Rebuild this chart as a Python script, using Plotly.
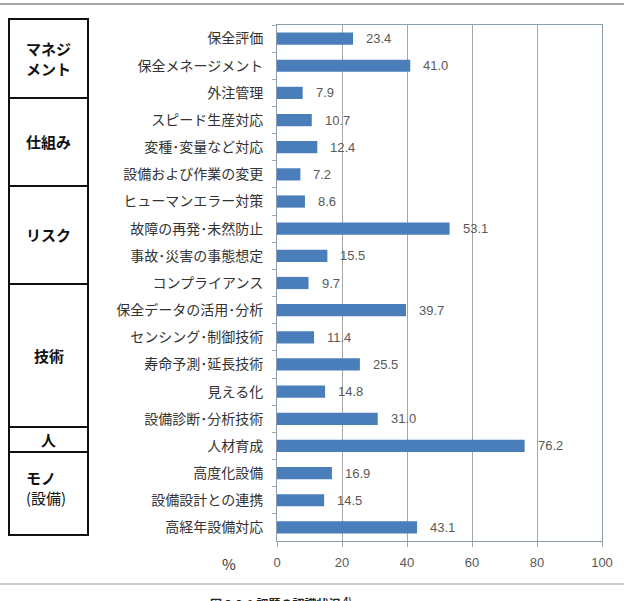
import plotly.graph_objects as go

categories = [
    "保全評価", "保全メネージメント", "外注管理", "スピード生産対応", "変種･変量など対応",
    "設備および作業の変更", "ヒューマンエラー対策", "故障の再発･未然防止", "事故･災害の事態想定",
    "コンプライアンス", "保全データの活用･分析", "センシング･制御技術", "寿命予測･延長技術",
    "見える化", "設備診断･分析技術", "人材育成", "高度化設備", "設備設計との連携", "高経年設備対応",
]
values = [23.4, 41.0, 7.9, 10.7, 12.4, 7.2, 8.6, 53.1, 15.5, 9.7, 39.7, 11.4, 25.5, 14.8, 31.0, 76.2, 16.9, 14.5, 43.1]
x_ticks = [0, 20, 40, 60, 80, 100]

groups = ["マネジ<br>メント", "仕組み", "リスク", "技術", "人", "<b>モノ</b><br><span style='font-weight:normal'>(設備)</span>"]

W, H = 624, 601
L, R, T, B = 277, 602, 25, 541

fig = go.Figure()
fig.add_trace(go.Bar(
    y=categories, x=values, orientation="h",
    marker=dict(color="#4a7ebb", line=dict(width=0)),
    width=0.45, hoverinfo="skip",
))

for c, v in zip(categories, values):
    fig.add_annotation(x=v, y=c, xref="x", yref="y", text=f"{v:.1f}", showarrow=False,
                       xanchor="left", yanchor="middle", xshift=11,
                       font=dict(family="Liberation Sans, Arial", size=13, color="#595959"))

def px_x(p):
    return (p - L) / (R - L)

def px_y(p):
    return (B - p) / (B - T)

row_edges = [19, 98, 186, 284, 427, 452, 535]
tx0, tx1 = 9, 88
fig.add_shape(type="rect", xref="paper", yref="paper",
              x0=px_x(tx0), x1=px_x(tx1), y0=px_y(row_edges[-1]), y1=px_y(row_edges[0]),
              line=dict(color="#111111", width=2), fillcolor="rgba(0,0,0,0)")
for e in row_edges[1:-1]:
    fig.add_shape(type="line", xref="paper", yref="paper",
                  x0=px_x(tx0), x1=px_x(tx1), y0=px_y(e), y1=px_y(e),
                  line=dict(color="#111111", width=2))
for i, g in enumerate(groups):
    top, bot = row_edges[i], row_edges[i + 1]
    mid = (top + bot) / 2
    if i == 5:
        fig.add_annotation(xref="paper", yref="paper", x=px_x(24), y=px_y(mid - 6), text=g,
                           showarrow=False, xanchor="left", yanchor="middle", align="left",
                           font=dict(family="Noto Sans CJK JP", size=15, color="#111111"))
    elif i == 0:
        fig.add_annotation(xref="paper", yref="paper", x=px_x((tx0 + tx1) / 2), y=px_y(mid), text=f"<b>{g}</b>",
                           showarrow=False, xanchor="center", yanchor="middle", align="left",
                           font=dict(family="Noto Sans CJK JP", size=15, color="#111111"))
    else:
        fig.add_annotation(xref="paper", yref="paper", x=px_x((tx0 + tx1) / 2), y=px_y(mid), text=f"<b>{g}</b>",
                           showarrow=False, xanchor="center", yanchor="middle", align="center",
                           font=dict(family="Noto Sans CJK JP", size=15, color="#111111"))

fig.add_shape(type="line", xref="paper", yref="paper", x0=px_x(0), x1=px_x(W), y0=px_y(4), y1=px_y(4),
              line=dict(color="#a6a6a6", width=2))
fig.add_shape(type="line", xref="paper", yref="paper", x0=px_x(0), x1=px_x(W), y0=px_y(584), y1=px_y(584),
              line=dict(color="#cccccc", width=2))

fig.add_annotation(xref="paper", yref="paper", x=px_x(229), y=px_y(563), text="%", showarrow=False,
                   xanchor="center", yanchor="middle",
                   font=dict(family="Noto Sans CJK JP", size=15, color="#333333"))

fig.add_annotation(xref="paper", yref="paper", x=px_x(280), y=px_y(592), yanchor="top", xanchor="center",
                   text="<b>図 3.2.1 課題の認識状況 <sup>4)</sup></b>", showarrow=False,
                   font=dict(family="Noto Sans CJK JP", size=12, color="#222222"))

fig.update_layout(
    width=W, height=H,
    margin=dict(l=L, r=W - R, t=T, b=H - B),
    paper_bgcolor="white", plot_bgcolor="white",
    showlegend=False, bargap=0.55,
    xaxis=dict(range=[0, 100], tickvals=x_ticks, showgrid=True, gridcolor="#a6a6a6", gridwidth=1,
               showline=True, linecolor="#8c9cb0", linewidth=1, mirror=True,
               ticks="outside", ticklen=5, tickcolor="#a6a6a6",
               zeroline=False, ticklabelstandoff=4,
               tickfont=dict(family="Liberation Sans, Arial", size=13, color="#595959")),
    yaxis=dict(categoryorder="array", categoryarray=categories, autorange="reversed",
               type="category", tickson="boundaries", ticks="outside", ticklen=4, tickcolor="#a6a6a6",
               showline=True, linecolor="#8c9cb0", linewidth=1, mirror=True, showgrid=False,
               ticklabelstandoff=10,
               tickfont=dict(family="Noto Sans CJK JP", size=14, color="#333333")),
)

fig.write_html("out.html")
